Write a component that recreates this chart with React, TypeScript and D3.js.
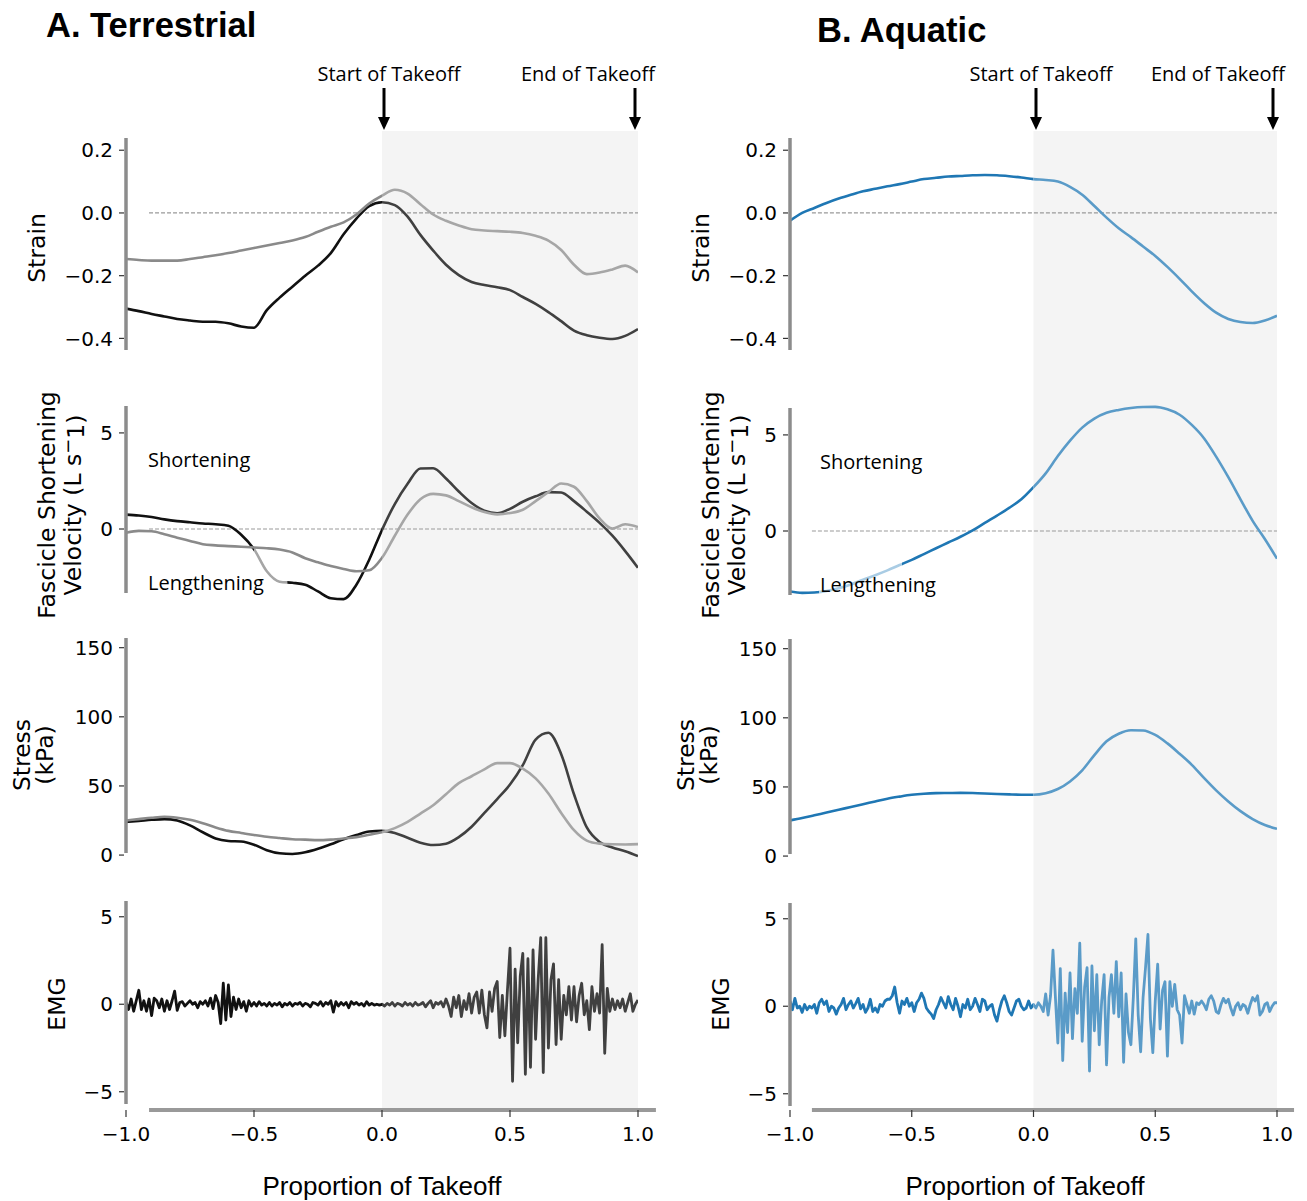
import React, { useEffect, useRef } from 'react';
import * as d3 from 'd3';

// proportion of takeoff at which the smoothed traces were read
const proportion = [
  -1, -0.95, -0.9, -0.85, -0.8, -0.75, -0.7, -0.65, -0.6, -0.55, -0.5, -0.45, -0.4, -0.35, -0.3, -0.25, -0.2, -0.15,
  -0.1, -0.05, 0, 0.05, 0.1, 0.15, 0.2, 0.25, 0.3, 0.35, 0.4, 0.45, 0.5, 0.55, 0.6, 0.65, 0.7, 0.75, 0.8, 0.85, 0.9,
  0.95, 1,
];
// EMG sample grid (every 0.01 of takeoff)
const emgProportion = d3.range(201).map((i) => -1 + i / 100);

const strainTicks = [-0.4, -0.2, 0, 0.2];
const velocityTicks = [0, 5];
const stressTicks = [0, 50, 100, 150];
const emgTicks = [-5, 0, 5];
const takeoffTicks = [-1, -0.5, 0, 0.5, 1];

// A. Terrestrial - dark and light traces
const terrStrainDark = [
  -0.305, -0.313, -0.322, -0.33, -0.338, -0.343, -0.347, -0.347, -0.352, -0.362, -0.366, -0.31, -0.27, -0.235, -0.2,
  -0.168, -0.128, -0.068, -0.018, 0.022, 0.034, 0.025, -0.012, -0.07, -0.12, -0.165, -0.198, -0.22, -0.23, -0.237,
  -0.246, -0.268, -0.29, -0.316, -0.345, -0.375, -0.39, -0.398, -0.402, -0.392, -0.37,
];
const terrStrainLight = [
  -0.147, -0.15, -0.152, -0.152, -0.152, -0.147, -0.141, -0.135, -0.128, -0.12, -0.112, -0.104, -0.096, -0.088, -0.077,
  -0.06, -0.044, -0.03, -0.005, 0.03, 0.055, 0.074, 0.062, 0.028, -0.005, -0.025, -0.04, -0.052, -0.056, -0.058, -0.06,
  -0.064, -0.073, -0.088, -0.118, -0.165, -0.195, -0.19, -0.18, -0.168, -0.19,
];
const terrVelocityDark = [
  0.75, 0.7, 0.62, 0.5, 0.41, 0.35, 0.29, 0.25, 0.17, -0.3, -1.05, -2.2, -2.74, -2.8, -2.9, -3.25, -3.6, -3.65, -2.9,
  -1.6, -0.05, 1.3, 2.35, 3.15, 3.16, 2.63, 1.95, 1.35, 0.95, 0.82, 1.05, 1.42, 1.7, 1.92, 1.9, 1.45, 0.9, 0.32, -0.35,
  -1.15, -2.02,
];
const terrVelocityLight = [
  -0.2, -0.1, -0.12, -0.27, -0.45, -0.62, -0.79, -0.85, -0.89, -0.92, -0.96, -1.0, -1.07, -1.22, -1.52, -1.73, -1.93,
  -2.08, -2.2, -2.15, -1.5, -0.35, 0.75, 1.55, 1.83, 1.75, 1.45, 1.13, 0.88, 0.76, 0.83, 1.0, 1.45, 1.92, 2.37, 2.2,
  1.45, 0.55, 0.02, 0.25, 0.1,
];
const terrStressDark = [
  24, 24.7, 25.5, 26, 25, 21.5, 16.5, 12, 10.2, 9.8, 7.5, 3.5, 1.3, 0.8, 2, 4.5, 7.8, 11.5, 14.5, 17, 17.5, 16, 12.5, 9,
  7.3, 8.2, 13, 20.5, 30.5, 40.5, 51, 65, 83.5, 88.5, 73, 44, 20, 9.5, 5.5, 2.8, -0.7,
];
const terrStressLight = [
  25, 26, 27, 27.7, 27, 25.5, 23, 20, 17.5, 16, 14.5, 13.2, 12.3, 11.5, 11.2, 10.8, 11.2, 12, 13, 14.7, 16.5, 19.5, 24,
  30, 36, 44, 52, 57, 62, 66.5, 66.5, 62.5, 55.5, 44.5, 30.5, 18, 10.5, 8.3, 7.8, 7.7, 7.9,
];
const terrEmg = [
  0.1, -0.3, 0.3, -0.4, 0.2, 0.8, -0.3, 0.2, -0.4, 0.3,
  -0.65, 0.35, 0.2, -0.2, 0.3, -0.4, 0.2, -0.3, 0.2, 0.75,
  -0.35, 0.1, 0.15, -0.1, 0.05, 0.2, 0.0, 0.1, -0.2, 0.15,
  0.0, 0.2, -0.1, 0.35, -0.25, 0.5, 0.1, -1.1, 1.2, -0.9,
  1.1, -0.7, 0.4, -0.3, 0.3, -0.2, 0.15, -0.4, 0.2, -0.1,
  0.1, -0.1, 0.15, -0.05, 0.05, -0.1, 0.1, -0.1, 0.05, -0.05,
  0.1, -0.15, 0.05, -0.05, 0.1, -0.1, 0.05, 0.0, 0.1, -0.1,
  0.05, 0.0, -0.15, 0.1, 0.05, -0.05, 0.15, -0.1, 0.1, 0.0,
  0.2, -0.45, 0.15, -0.1, 0.1, -0.05, 0.1, -0.2, 0.15, 0.0,
  0.1, -0.05, 0.05, -0.1, 0.15, -0.05, 0.05, -0.05, 0.0, -0.05,
  0.0, -0.1, 0.05, -0.05, 0.1, -0.1, 0.05, 0.0, -0.1, 0.1,
  -0.05, 0.05, -0.1, 0.1, -0.05, 0.0, 0.1, -0.15, 0.05, 0.2,
  -0.2, 0.1, 0.0, 0.15, -0.15, 0.3, -0.1, -0.7, 0.4, -0.2,
  0.5, -0.7, 0.2, -0.3, 0.6, -0.5, 0.4, 0.7, -0.5, 0.8,
  -0.6, -1.35, 0.7, -0.4, 0.9, 1.3, -1.9, 0.5, -1.8, 0.8,
  3.2, -4.4, 2.0, -2.2, 1.6, 2.9, -4.0, 2.6, -3.6, 3.1,
  -2.0, 1.4, 3.8, -3.9, 3.8, -2.5, 1.4, 2.3, -2.3, 1.4,
  -2.0, 0.5, -0.6, 1.0, -0.9, 1.0, -1.0, 0.5, 1.2, -0.6,
  0.2, -1.45, 1.0, -0.4, 0.6, -0.5, 3.4, -2.8, 0.9, -0.4,
  0.3, -0.3, 0.2, -0.2, 0.3, -0.4, 0.1, 0.6, -0.4, 0.0,
  0.25,
];

// B. Aquatic
const aquaStrain = [
  -0.025, 0.0, 0.016, 0.032, 0.046, 0.058, 0.069, 0.077, 0.085, 0.092, 0.1, 0.108, 0.112, 0.116, 0.118, 0.12, 0.121,
  0.12, 0.117, 0.113, 0.108, 0.105, 0.1, 0.083, 0.058, 0.022, -0.015, -0.049, -0.077, -0.107, -0.137, -0.172, -0.21,
  -0.25, -0.287, -0.318, -0.338, -0.348, -0.351, -0.343, -0.328,
];
const aquaVelocity = [
  -3.15, -3.22, -3.2, -3.12, -2.98, -2.78, -2.53, -2.3, -2.05, -1.77, -1.5, -1.2, -0.9, -0.6, -0.3, 0.03, 0.42, 0.8,
  1.2, 1.65, 2.28, 3.0, 3.9, 4.7, 5.38, 5.85, 6.15, 6.3, 6.4, 6.45, 6.46, 6.33, 6.05, 5.52, 4.83, 3.87, 2.8, 1.65, 0.53,
  -0.42, -1.44,
];
const aquaStress = [
  25.8, 27.5, 29.5, 31.5, 33.5, 35.5, 37.5, 39.5, 41.5, 43, 44.3, 45.1, 45.5, 45.6, 45.7, 45.6, 45.3, 44.9, 44.6, 44.4,
  44.4, 45.5, 48.5, 54, 62, 73, 83, 88.5, 91, 90.8, 87.6, 81.5, 74, 66, 56.5, 47.5, 39.5, 32.5, 26.8, 22.5, 19.7,
];
const aquaEmg = [
  0.3, -0.2, 0.45, -0.1, 0.0, -0.35, 0.1, -0.2, 0.0, -0.1,
  0.1, -0.4, 0.2, 0.4, 0.1, 0.3, -0.3, 0.0, -0.1, -0.45,
  -0.1, 0.1, 0.45, -0.2, 0.1, 0.3, -0.1, 0.15, 0.45, -0.15,
  0.1, -0.35, -0.1, 0.4, -0.3, -0.1, -0.35, 0.1, 0.0, 0.3,
  0.4, 0.4, 0.6, 1.1, 0.2, -0.4, 0.3, 0.1, 0.45, 0.0,
  0.2, -0.3, 0.2, 0.4, 0.75, 0.45, -0.1, -0.3, -0.45, -0.7,
  -0.2, 0.1, 0.5, 0.2, -0.1, 0.55, 0.1, -0.2, 0.45, 0.0,
  -0.6, 0.1, -0.1, 0.4, -0.2, 0.0, 0.45, 0.1, -0.3, 0.4,
  0.3, -0.2, 0.0, 0.1, -0.5, -0.85, -0.2, 0.3, 0.6, 0.2,
  -0.3, -0.5, -0.1, 0.3, 0.4, 0.0, -0.2, -0.1, 0.3, -0.1,
  0.1, -0.1, 0.2, 0.0, -0.3, 0.7, -0.5, 0.6, 3.2, 0.5,
  -2.1, 2.15, -3.1, 0.75, -1.5, 1.9, -1.85, 1.0, -0.4, 3.6,
  -2.0, 1.1, 2.2, -3.7, 2.3, -1.4, 1.8, -2.2, 0.3, 1.8,
  -3.35, 0.5, 1.8, -0.4, 2.55, -0.6, 1.9, -3.2, 0.7, -1.5,
  -2.2, 0.5, 3.85, -0.5, -2.6, 0.5, 2.2, 4.1, -0.7, -2.65,
  0.3, 2.4, -1.3, 0.9, 1.4, -2.85, 1.4, 0.0, 1.25, -0.2,
  -0.5, -2.1, 0.6, 0.1, -0.4, 0.3, -0.45, 0.2, 0.1, 0.3,
  0.1, -0.2, 0.4, 0.6, 0.3, -0.3, -0.4, 0.1, 0.45, 0.2,
  0.4, -0.1, -0.5, 0.0, 0.2, -0.2, 0.1, 0.0, -0.4, 0.1,
  0.5, 0.3, 0.6, -0.5, -0.3, 0.1, 0.2, -0.3, 0.0, 0.2,
  0.2,
];

// colour pieces along the x axis (before / during takeoff)
const darkSegs = [
  { from: -1, to: 0, color: '#111111' },
  { from: 0, to: 1, color: '#404040' },
];
const lightSegs = [
  { from: -1, to: 0, color: '#8a8a8a' },
  { from: 0, to: 1, color: '#a6a6a6' },
];
const darkVelSegs = [
  { from: -1, to: -0.5, color: '#111111' },
  { from: -0.5, to: -0.37, color: '#a6a6a6' },
  { from: -0.37, to: 0, color: '#111111' },
  { from: 0, to: 1, color: '#404040' },
];
const blueSegs = [
  { from: -1, to: 0, color: '#1f77b4' },
  { from: 0, to: 1, color: '#5a9bc8' },
];
const blueVelSegs = [
  { from: -1, to: -0.88, color: '#1f77b4' },
  { from: -0.88, to: -0.54, color: '#a9cce4' },
  { from: -0.54, to: 0, color: '#1f77b4' },
  { from: 0, to: 1, color: '#5a9bc8' },
];

const TICK_FONT = '"DejaVu Sans", sans-serif';
const NOTE_FONT = '"Open Sans", sans-serif';
const TITLE_FONT = '"Liberation Sans", Arial, sans-serif';

function App() {
  const svgRef = useRef<SVGSVGElement>(null);

  useEffect(() => {
    const svg = d3.select(svgRef.current);
    svg.selectAll('*').remove();
    svg.append('rect').attr('width', 1307).attr('height', 1201).attr('fill', '#fff');
    const defs = svg.append('defs');

    const rows = [
      { key: 'strain', domain: [-0.437, 0.239], range: [350, 138], ticks: strainTicks, fmt: d3.format('.1f'), zero: true,
        labelY: 248, labels: [{ text: 'Strain', dx: -89 }] },
      { key: 'vel', domain: [-3.33, 6.4], range: [593, 406], ticks: velocityTicks, fmt: d3.format('d'), zero: true,
        labelY: 505, labels: [{ text: 'Fascicle Shortening', dx: -79 }, { text: 'Velocity (L s', dx: -53, sup: true }] },
      { key: 'stress', domain: [1.5, 157], range: [853, 638], ticks: stressTicks, fmt: d3.format('d'), zero: false,
        labelY: 755, labels: [{ text: 'Stress', dx: -104 }, { text: '(kPa)', dx: -81 }] },
      { key: 'emg', domain: [-5.7, 5.9], range: [1104, 901], ticks: emgTicks, fmt: d3.format('d'), zero: false,
        labelY: 1004, labels: [{ text: 'EMG', dx: -69 }] },
    ];

    const sides = [
      {
        key: 'terr', title: 'A. Terrestrial', titleX: 46, titleY: 37, xRange: [126, 638], shift: [0, 0, 0, 0],
        xLabelX: 382, notes: [{ text: 'Start of Takeoff', x: 389 }, { text: 'End of Takeoff', x: 588 }],
        arrows: [384, 635],
        series: [
          [{ values: terrStrainDark, segs: darkSegs }, { values: terrStrainLight, segs: lightSegs }],
          [{ values: terrVelocityDark, segs: darkVelSegs }, { values: terrVelocityLight, segs: lightSegs }],
          [{ values: terrStressDark, segs: darkSegs }, { values: terrStressLight, segs: lightSegs }],
          [{ values: terrEmg, segs: darkSegs, emg: true }],
        ],
      },
      {
        key: 'aqua', title: 'B. Aquatic', titleX: 817, titleY: 42, xRange: [790, 1277], shift: [0, 2, 1, 2],
        xLabelX: 1025, notes: [{ text: 'Start of Takeoff', x: 1041 }, { text: 'End of Takeoff', x: 1218 }],
        arrows: [1036, 1273],
        series: [
          [{ values: aquaStrain, segs: blueSegs }],
          [{ values: aquaVelocity, segs: blueVelSegs }],
          [{ values: aquaStress, segs: blueSegs }],
          [{ values: aquaEmg, segs: blueSegs, emg: true }],
        ],
      },
    ];

    sides.forEach((side) => {
      const x = d3.scaleLinear().domain([-1, 1]).range(side.xRange);
      const spineX = side.xRange[0];
      const g = svg.append('g');

      // takeoff window
      g.append('rect')
        .attr('x', x(0))
        .attr('y', 131)
        .attr('width', x(1) - x(0))
        .attr('height', 979)
        .attr('fill', '#f4f4f4');

      // panel title
      g.append('text')
        .attr('x', side.titleX)
        .attr('y', side.titleY)
        .style('font-family', TITLE_FONT)
        .style('font-weight', 'bold')
        .style('font-size', '34.5px')
        .text(side.title);

      // takeoff markers
      side.notes.forEach((n) => {
        g.append('text')
          .attr('x', n.x)
          .attr('y', 81)
          .attr('text-anchor', 'middle')
          .style('font-family', NOTE_FONT)
          .style('font-size', '20px')
          .text(n.text);
      });
      side.arrows.forEach((ax) => {
        g.append('line').attr('x1', ax).attr('x2', ax).attr('y1', 88).attr('y2', 118)
          .attr('stroke', '#000').attr('stroke-width', 3);
        g.append('path')
          .attr('d', `M${ax - 6},117 L${ax + 6},117 L${ax},130 Z`)
          .attr('fill', '#000');
      });

      rows.forEach((row, ri) => {
        const off = side.shift[ri];
        const y = d3.scaleLinear().domain(row.domain).range([row.range[0] + off, row.range[1] + off]);

        if (row.zero) {
          g.append('line')
            .attr('x1', x(-0.91)).attr('x2', x(1))
            .attr('y1', y(0)).attr('y2', y(0))
            .attr('stroke', '#999').attr('stroke-width', 1.2).attr('stroke-dasharray', '4,2');
        }

        side.series[ri].forEach((s, si) => {
          const xs = s.emg ? emgProportion : proportion;
          const line = d3.line<number>()
            .x((_, i) => x(xs[i]))
            .y((d) => y(d))
            .curve(s.emg ? d3.curveLinear : d3.curveMonotoneX);
          s.segs.forEach((seg, k) => {
            const id = `clip-${side.key}-${row.key}-${si}-${k}`;
            defs.append('clipPath').attr('id', id)
              .append('rect')
              .attr('x', x(seg.from)).attr('y', 0)
              .attr('width', x(seg.to) - x(seg.from)).attr('height', 1201);
            g.append('path')
              .datum(s.values)
              .attr('clip-path', `url(#${id})`)
              .attr('fill', 'none')
              .attr('stroke', seg.color)
              .attr('stroke-width', s.emg ? 2.8 : 2.6)
              .attr('stroke-linejoin', 'round')
              .attr('d', line);
          });
        });

        // left spine
        g.append('line')
          .attr('x1', spineX).attr('x2', spineX)
          .attr('y1', row.range[0] + off).attr('y2', row.range[1] + off)
          .attr('stroke', '#8c8c8c').attr('stroke-width', 3.5);

        row.ticks.forEach((t) => {
          g.append('line')
            .attr('x1', spineX - 7).attr('x2', spineX - 2)
            .attr('y1', y(t)).attr('y2', y(t))
            .attr('stroke', '#333').attr('stroke-width', 1.2);
          g.append('text')
            .attr('x', spineX - 13)
            .attr('y', y(t))
            .attr('dy', '0.36em')
            .attr('text-anchor', 'end')
            .style('font-family', TICK_FONT)
            .style('font-size', '20px')
            .text(row.fmt(t));
        });

        row.labels.forEach((lab) => {
          const cx = spineX + lab.dx;
          const t = g.append('text')
            .attr('transform', `translate(${cx},${row.labelY}) rotate(-90)`)
            .attr('dy', '0.36em')
            .attr('text-anchor', 'middle')
            .style('font-family', TICK_FONT)
            .style('font-size', '23.5px')
            .text(lab.text);
          if (lab.sup) {
            t.append('tspan').attr('dy', '-0.4em').style('font-size', '18px').text('\u2212');
            t.append('tspan').attr('dy', '0.4em').text('1)');
          }
        });

        if (row.key === 'vel') {
          const nx = spineX + 22 + (side.key === 'aqua' ? 8 : 0);
          g.append('text').attr('x', nx).attr('y', 467 + off)
            .style('font-family', NOTE_FONT).style('font-size', '20px').text('Shortening');
          g.append('text').attr('x', nx).attr('y', 590 + off)
            .style('font-family', NOTE_FONT).style('font-size', '20px').text('Lengthening');
        }
      });

      // bottom axis
      g.append('line')
        .attr('x1', x(-0.91)).attr('x2', x(1.07))
        .attr('y1', 1110).attr('y2', 1110)
        .attr('stroke', '#999').attr('stroke-width', 4);
      takeoffTicks.forEach((t) => {
        g.append('line')
          .attr('x1', x(t)).attr('x2', x(t))
          .attr('y1', 1110).attr('y2', 1117)
          .attr('stroke', '#333').attr('stroke-width', 1.2);
        g.append('text')
          .attr('x', x(t))
          .attr('y', 1141)
          .attr('text-anchor', 'middle')
          .style('font-family', TICK_FONT)
          .style('font-size', '20px')
          .text(d3.format('.1f')(t));
      });
      g.append('text')
        .attr('x', side.xLabelX)
        .attr('y', 1195)
        .attr('text-anchor', 'middle')
        .style('font-family', TITLE_FONT)
        .style('font-size', '26px')
        .text('Proportion of Takeoff');
    });
  }, []);

  return (
    <svg
      ref={svgRef}
      width={1307}
      height={1201}
      style={{ position: 'absolute', left: 0, top: 0 }}
    />
  );
}

export default App;
